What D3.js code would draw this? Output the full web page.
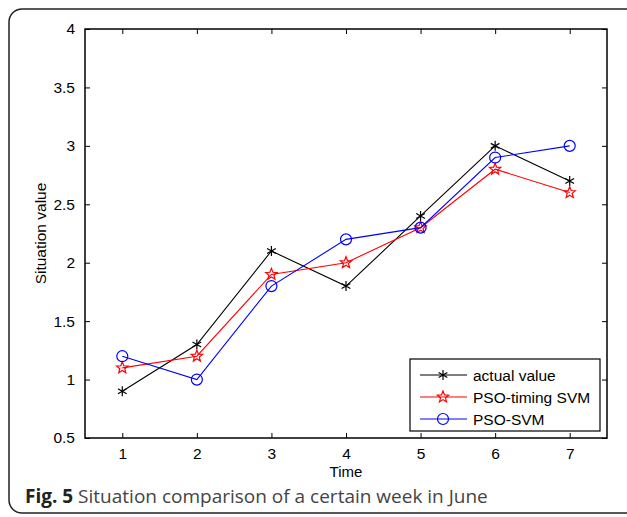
<!DOCTYPE html>
<html>
<head>
<meta charset="utf-8">
<style>
  body { margin: 0; background: #fff; }
  text { font-family: "Liberation Sans", Arial, sans-serif; }
</style>
</head>
<body>
<svg id="chart" width="627" height="517"></svg>

<script src="https://d3js.org/d3.v7.min.js"></script>
<script>
// data
var times = [1, 2, 3, 4, 5, 6, 7];
var actualValue = [0.9, 1.3, 2.1, 1.8, 2.4, 3.0, 2.7];
var psoTimingSvm = [1.1, 1.2, 1.9, 2.0, 2.3, 2.8, 2.6];
var psoSvm = [1.2, 1.0, 1.8, 2.2, 2.3, 2.9, 3.0];
var yTicks = [0.5, 1, 1.5, 2, 2.5, 3, 3.5, 4];

var series = [
  { name: "actual value", values: actualValue, color: "#000", marker: "asterisk" },
  { name: "PSO-timing SVM", values: psoTimingSvm, color: "#ff0000", marker: "star" },
  { name: "PSO-SVM", values: psoSvm, color: "#0000ff", marker: "circle" }
];

var svg = d3.select("#chart");

// rounded frame around the figure (open on the right like the page crop)
svg.append("rect")
  .attr("x", 9).attr("y", 9)
  .attr("width", 640).attr("height", 504)
  .attr("rx", 13).attr("ry", 13)
  .attr("fill", "none").attr("stroke", "#222").attr("stroke-width", 1.5);

var plotL = 85, plotT = 29, plotR = 607, plotB = 438;

var x = d3.scaleLinear().domain([0.5, 7.5]).range([plotL, plotR]);
var y = d3.scaleLinear().domain([0.5, 4]).range([plotB, plotT]);
var fmt = d3.format("");

// axes with inward ticks on all four sides
svg.append("g")
  .attr("transform", "translate(0," + plotB + ")")
  .call(d3.axisBottom(x).tickValues(times).tickSizeInner(-5).tickSizeOuter(0).tickPadding(10).tickFormat(fmt));
svg.append("g")
  .attr("transform", "translate(0," + plotT + ")")
  .call(d3.axisTop(x).tickValues(times).tickSizeInner(-5).tickSizeOuter(0).tickFormat(""));
svg.append("g")
  .attr("transform", "translate(" + plotL + ",0)")
  .call(d3.axisLeft(y).tickValues(yTicks).tickSizeInner(-5).tickSizeOuter(0).tickPadding(10).tickFormat(fmt));
svg.append("g")
  .attr("transform", "translate(" + plotR + ",0)")
  .call(d3.axisRight(y).tickValues(yTicks).tickSizeInner(-5).tickSizeOuter(0).tickFormat(""));

svg.selectAll(".domain").remove();
svg.selectAll(".tick line").attr("stroke", "#000");
svg.selectAll(".tick text").attr("font-size", 15.5).attr("fill", "#000")
  .attr("font-family", "'Liberation Sans', Arial, sans-serif");

svg.append("rect")
  .attr("x", plotL).attr("y", plotT)
  .attr("width", plotR - plotL).attr("height", plotB - plotT)
  .attr("fill", "none").attr("stroke", "#000").attr("stroke-width", 1.5);

// axis titles
svg.append("text")
  .attr("x", (plotL + plotR) / 2).attr("y", 477)
  .attr("text-anchor", "middle").attr("font-size", 15)
  .text("Time");
svg.append("text")
  .attr("transform", "translate(46," + (plotT + plotB) / 2 + ") rotate(-90)")
  .attr("text-anchor", "middle").attr("font-size", 15.5)
  .text("Situation value");

// marker shapes
function drawMarker(g, type, color) {
  if (type === "circle") {
    g.append("circle").attr("r", 5.5)
      .attr("fill", "none").attr("stroke", color).attr("stroke-width", 1.2);
  } else if (type === "star") {
    var pts = [];
    for (var i = 0; i < 10; i++) {
      var r = i % 2 === 0 ? 6 : 2.6;
      var a = -Math.PI / 2 + i * Math.PI / 5;
      pts.push([r * Math.cos(a), r * Math.sin(a)]);
    }
    g.append("path").attr("d", "M" + pts.join("L") + "Z")
      .attr("fill", "none").attr("stroke", color).attr("stroke-width", 1.2);
  } else {
    var s = 5;
    g.append("path")
      .attr("d", "M0," + (-s) + "V" + s +
        "M" + (-s * 0.87) + "," + (-s * 0.5) + "L" + (s * 0.87) + "," + (s * 0.5) +
        "M" + (-s * 0.87) + "," + (s * 0.5) + "L" + (s * 0.87) + "," + (-s * 0.5))
      .attr("stroke", color).attr("stroke-width", 1.2);
  }
}

var line = d3.line()
  .x(function (d, i) { return x(times[i]); })
  .y(function (d) { return y(d); });

series.forEach(function (s) {
  svg.append("path")
    .attr("d", line(s.values))
    .attr("fill", "none").attr("stroke", s.color).attr("stroke-width", 1.1);
  s.values.forEach(function (v, i) {
    var g = svg.append("g").attr("transform", "translate(" + x(times[i]) + "," + y(v) + ")");
    drawMarker(g, s.marker, s.color);
  });
});

// legend
var legend = svg.append("g");
legend.append("rect")
  .attr("x", 410).attr("y", 359).attr("width", 190).attr("height", 72)
  .attr("fill", "#fff").attr("stroke", "#000").attr("stroke-width", 1.2);
series.forEach(function (s, i) {
  var ly = 375 + i * 22;
  legend.append("line")
    .attr("x1", 420).attr("x2", 467).attr("y1", ly).attr("y2", ly)
    .attr("stroke", s.color).attr("stroke-width", 1.1);
  drawMarker(legend.append("g").attr("transform", "translate(443," + ly + ")"), s.marker, s.color);
  legend.append("text")
    .attr("x", 473).attr("y", ly + 5.5)
    .attr("font-size", 15.5)
    .text(s.name);
});

// caption
var cap = svg.append("text")
  .attr("x", 25).attr("y", 503)
  .attr("font-size", 19)
  .attr("fill", "#444")
  .style("font-family", "'Open Sans', 'Noto Sans', sans-serif");
cap.append("tspan").attr("font-weight", "bold").attr("fill", "#222").text("Fig. 5");
cap.append("tspan").text(" Situation comparison of a certain week in June");
</script>
</body>
</html>
